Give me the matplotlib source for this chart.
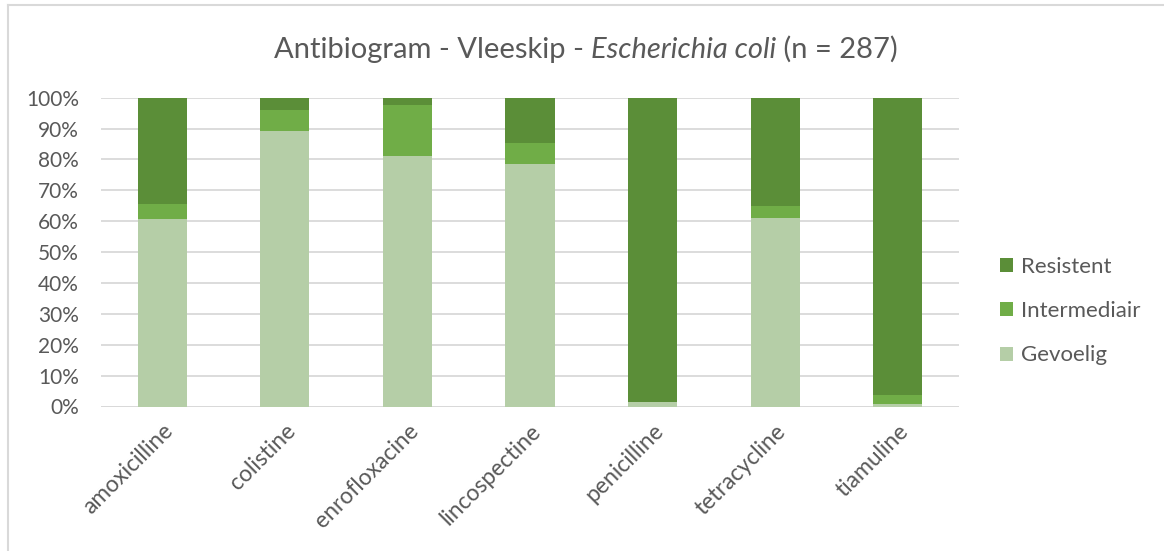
import matplotlib
matplotlib.use("Agg")
import matplotlib.pyplot as plt
from matplotlib.patches import Patch
from matplotlib.lines import Line2D
import numpy as np

categories = ["amoxicilline", "colistine", "enrofloxacine", "lincospectine",
              "penicilline", "tetracycline", "tiamuline"]
gevoelig = [60.7, 89.3, 81.1, 78.5, 1.4, 61.2, 0.7]
intermediair = [4.8, 6.7, 16.4, 6.7, 0.0, 3.8, 3.0]
resistent = [34.5, 4.0, 2.5, 14.8, 98.6, 35.0, 96.3]
yticks = [0, 10, 20, 30, 40, 50, 60, 70, 80, 90, 100]

c_g = "#B5CEA7"
c_i = "#70AD47"
c_r = "#5B8E38"
txt = "#595959"
grid = "#D9D9D9"
font = "Lato"

plt.rcParams['font.family'] = [font, 'DejaVu Sans']

W, H = 1164, 551
fig = plt.figure(figsize=(W / 100, H / 100), dpi=100)
ax = fig.add_axes([101 / W, 1 - 406.5 / H, (959 - 101) / W, (406.5 - 97.7) / H])

x = np.arange(len(categories))
g = np.array(gevoelig)
i = np.array(intermediair)
r = np.array(resistent)
bw = 0.4
ax.bar(x, g, bw, color=c_g, zorder=3)
ax.bar(x, i, bw, bottom=g, color=c_i, zorder=3)
ax.bar(x, r, bw, bottom=g + i, color=c_r, zorder=3)

ax.set_xlim(-0.5, len(categories) - 0.5)
ax.set_ylim(0, 100)
ax.set_yticks(yticks)
ax.set_yticklabels([f"{v}%" for v in yticks], fontsize=15, color=txt)
ax.yaxis.grid(True, color=grid, linewidth=1.3, zorder=0)
ax.set_axisbelow(True)
for s in ax.spines.values():
    s.set_visible(False)
ax.tick_params(axis='y', length=0, pad=16)
ax.tick_params(axis='x', length=0, pad=10)
ax.set_xticks(x)
ax.set_xticklabels(categories, rotation=45, ha='right', va='top',
                   rotation_mode='anchor', fontsize=16.5, color=txt)
ax.axhline(0, color=grid, linewidth=1.3, zorder=2)

handles = [Patch(facecolor=c_r), Patch(facecolor=c_i), Patch(facecolor=c_g)]
labels = ["Resistent", "Intermediair", "Gevoelig"]
fig.legend(handles, labels, loc='center left', bbox_to_anchor=(1000 / W, 1 - 311 / H),
           frameon=False, fontsize=16, labelcolor=txt, handlelength=0.6,
           handleheight=0.6, handletextpad=0.35, labelspacing=1.1,
           borderaxespad=0, borderpad=0)

# Chart border (left and top visible)
fig.add_artist(Line2D([8 / W, 8 / W], [0, 1 - 5 / H], color=grid, linewidth=1.5))
fig.add_artist(Line2D([8 / W, 1], [1 - 5 / H, 1 - 5 / H], color=grid, linewidth=1.5))

# Title with italic part
parts = [("Antibiogram - Vleeskip - ", "normal"), ("Escherichia coli", "italic"),
         (" (n = 287)", "normal")]
fig.canvas.draw()
renderer = fig.canvas.get_renderer()
tys = 1 - 58 / H
objs = []
for s, st in parts:
    t = fig.text(0, tys, s, fontsize=21, color=txt, style=st, ha='left', va='baseline')
    objs.append(t)
widths = [t.get_window_extent(renderer).width for t in objs]
total = sum(widths)
cx = 586
start = cx - total / 2
for t, w in zip(objs, widths):
    t.set_x(start / W)
    start += w

fig.savefig("out.png", dpi=100)
